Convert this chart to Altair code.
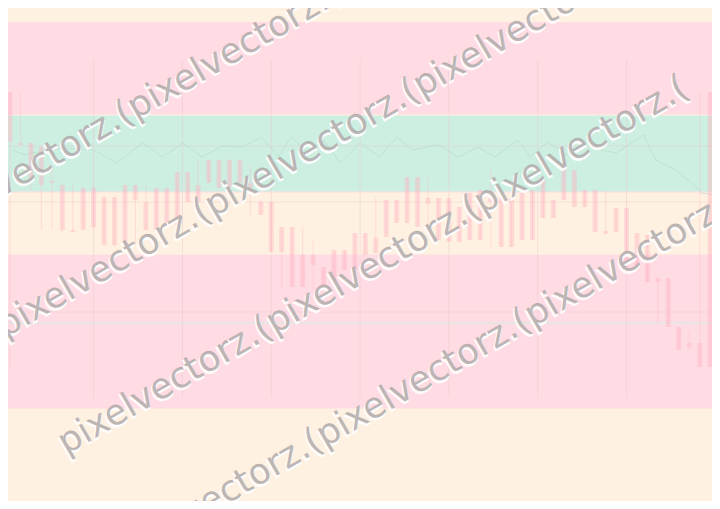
import altair as alt
import pandas as pd

# ---------------- data (price units, candle index) ----------------
candle_idx = list(range(68))
body_top = [41.7, 36.6, 36.6, 36.2, 32.8, 32.4, 27.9, 32.1, 32.1, 31.2,
            31.2, 32.4, 32.4, 30.7, 32.1, 32.1, 33.7, 33.7, 32.4, 34.9,
            34.9, 34.9, 34.9, 32.6, 30.7, 30.7, 28.2, 28.2, 25.4, 25.4,
            24.2, 25.9, 25.9, 27.6, 27.6, 27.1, 30.9, 30.9, 33.2, 33.2,
            31.1, 31.1, 31.1, 30.2, 31.6, 31.9, 31.1, 31.1, 31.1, 31.6,
            31.9, 32.9, 30.9, 33.9, 33.9, 31.9, 31.9, 27.8, 30.1, 30.1,
            27.6, 27.4, 23.1, 23.1, 18.2, 16.6, 16.6, 41.7]
body_bottom = [36.7, 36.4, 33.1, 32.4, 32.6, 27.9, 27.7, 27.9, 28.2, 26.4,
               26.4, 26.4, 30.9, 27.9, 27.9, 28.4, 28.4, 30.7, 30.7, 32.6,
               32.1, 32.1, 32.6, 32.1, 29.4, 25.7, 25.7, 22.2, 22.2, 24.4,
               22.1, 22.6, 23.9, 23.9, 25.4, 25.6, 27.2, 28.6, 28.6, 28.2,
               30.5, 26.9, 26.7, 26.7, 26.9, 26.9, 30.7, 26.2, 26.2, 26.9,
               26.9, 29.1, 29.1, 30.9, 30.2, 30.2, 27.7, 27.5, 27.7, 24.2,
               23.9, 22.7, 22.7, 18.2, 15.9, 16.2, 14.2, 14.2]
wick_high = [41.7, 41.6, 36.6, 36.4, 34.4, 32.6, 32.6, 32.1, 32.3, 31.4,
             31.2, 32.4, 32.4, 32.4, 32.1, 32.1, 33.7, 33.7, 34.9, 34.9,
             34.9, 35.0, 35.0, 34.4, 30.9, 30.7, 28.2, 28.2, 28.2, 26.9,
             24.2, 25.9, 25.9, 27.6, 27.6, 31.1, 30.9, 30.9, 33.2, 33.2,
             33.2, 31.1, 31.1, 30.2, 31.6, 31.9, 33.9, 31.1, 31.1, 31.6,
             31.9, 32.9, 30.9, 33.9, 33.9, 31.9, 31.9, 31.9, 30.1, 30.1,
             27.6, 27.4, 23.1, 23.1, 18.2, 17.9, 41.7, 41.7]
wick_low = [14.2, 36.4, 31.9, 27.9, 27.9, 27.7, 27.7, 27.9, 28.0, 26.4,
            26.2, 26.4, 26.4, 27.9, 27.9, 28.4, 28.4, 30.7, 30.7, 32.6,
            32.1, 32.1, 32.6, 29.2, 29.4, 25.7, 22.1, 22.2, 22.2, 21.9,
            22.1, 22.6, 23.9, 23.9, 25.4, 25.6, 27.2, 28.6, 28.6, 28.2,
            28.4, 26.9, 26.7, 26.7, 26.9, 26.9, 26.2, 26.2, 26.2, 26.9,
            26.9, 29.1, 29.1, 30.9, 30.2, 30.2, 27.7, 27.5, 27.7, 24.2,
            23.9, 22.7, 18.4, 18.2, 15.9, 15.9, 14.2, 14.2]

# faint indicator line
line_x = [0.3, 1.4, 2.6, 5.2, 8.0, 10.2, 12.7, 14.6, 16.5, 18.4, 20.3, 22.2,
          24.1, 25.7, 26.9, 28.5, 30.0, 31.6, 33.5, 35.4, 37.0, 38.5, 41.0,
          42.9, 44.8, 46.4, 48.6, 49.8, 51.4, 53.3, 55.2, 56.6, 58.0, 60.6,
          61.8, 63.7, 64.9, 66.2, 67.4]
line_y = [35.9, 35.4, 35.7, 36.1, 35.9, 34.6, 36.6, 35.2, 36.6, 35.2, 36.3,
          36.2, 37.2, 35.2, 37.2, 35.6, 36.9, 34.6, 36.6, 35.2, 37.2, 35.9,
          36.4, 35.2, 36.2, 35.2, 36.9, 35.2, 36.7, 35.4, 36.9, 35.9, 35.6,
          37.4, 34.9, 33.9, 32.9, 31.6, 31.4]

# background zones
band_name = ["low", "zone1", "mid", "zone2", "zone3", "top"]
band_from = [0.0, 10.1, 25.5, 31.7, 39.4, 48.7]
band_to = [10.1, 25.5, 31.7, 39.4, 48.7, 51.0]
band_colors = ["#FFF1E1", "#FFDCE3", "#FFF1E1", "#CDEFE2", "#FFDCE3", "#FFF1E1"]

# level lines
level_value = [39.4, 31.7, 25.5, 18.6, 10.1, 3.9]
level_name = ["l1", "l2", "l3", "l4", "l5", "l6"]
level_colors = ["#D9AEB9", "#B3C9BC", "#C4B2B0", "#D4AEB6", "#CDBAB0", "#D2C2B4"]
faint_levels = [36.3, 30.7, 19.7]

# vertical grid
grid_x = [8.0, 16.5, 25.0, 33.5, 42.0, 50.5, 59.0]
grid_top = 44.9
grid_bottom = 11.1

# watermark rows (anchor in index / price units)
wm_x = [-7.9, -0.47, 5.38, 10.19]
wm_y = [26.9, 17.1, 5.4, -5.9]
wm_word = "pixelvectorz.("
wm_repeat = 3

# ---------------- frames ----------------
candles = pd.DataFrame({"i": candle_idx, "top": body_top, "bottom": body_bottom,
                        "high": wick_high, "low": wick_low})
line_df = pd.DataFrame({"i": line_x, "v": line_y})
bands = pd.DataFrame({"band": band_name, "y0": band_from, "y1": band_to})
levels = pd.DataFrame({"lvl": level_name, "v": level_value})
faint = pd.DataFrame({"v": faint_levels})
grid = pd.DataFrame({"i": grid_x, "y0": [grid_bottom] * len(grid_x), "y1": [grid_top] * len(grid_x)})
wm = pd.DataFrame({"i": wm_x, "v": wm_y, "t": [wm_word * wm_repeat] * len(wm_x)})

W, H = 704, 493
xs = alt.Scale(domain=[0.283, 66.70], nice=False, zero=False)
ys = alt.Scale(domain=[0.8, 50.1], nice=False, zero=False)

band_layer = alt.Chart(bands).mark_rect(clip=True).encode(
    x=alt.value(0), x2=alt.value(W),
    y=alt.Y("y0:Q", scale=ys, axis=None), y2="y1:Q",
    color=alt.Color("band:N", scale=alt.Scale(domain=band_name, range=band_colors), legend=None),
)

grid_layer = alt.Chart(grid).mark_rule(color="#E9C3CC", strokeWidth=1, opacity=0.45, clip=True).encode(
    x=alt.X("i:Q", scale=xs, axis=None),
    y=alt.Y("y0:Q", scale=ys, axis=None), y2="y1:Q",
)

faint_layer = alt.Chart(faint).mark_rule(color="#E8C8CC", strokeWidth=1, opacity=0.45, clip=True).encode(
    y=alt.Y("v:Q", scale=ys, axis=None), x=alt.value(0), x2=alt.value(W),
)

level_layer = alt.Chart(levels).mark_rule(strokeWidth=1, clip=True).encode(
    y=alt.Y("v:Q", scale=ys, axis=None), x=alt.value(0), x2=alt.value(W),
    color=alt.Color("lvl:N", scale=alt.Scale(domain=level_name, range=level_colors), legend=None),
)

line_layer = alt.Chart(line_df).mark_line(color="#B9DCCB", strokeWidth=1, opacity=0.7, clip=True).encode(
    x=alt.X("i:Q", scale=xs, axis=None),
    y=alt.Y("v:Q", scale=ys, axis=None),
)

wick_layer = alt.Chart(candles).mark_rule(color="#FFB3C1", strokeWidth=1, opacity=0.35, clip=True).encode(
    x=alt.X("i:Q", scale=xs, axis=None),
    y=alt.Y("low:Q", scale=ys, axis=None), y2="high:Q",
)

body_layer = alt.Chart(candles).mark_bar(color="#FFB0C0", opacity=0.36, size=5, clip=True).encode(
    x=alt.X("i:Q", scale=xs, axis=None),
    y=alt.Y("bottom:Q", scale=ys, axis=None), y2="top:Q",
)

wm_shadow = alt.Chart(wm).mark_text(
    align="left", baseline="alphabetic", angle=330, font="DejaVu Sans",
    fontSize=35.5, color="#FFFFFF", stroke="#FFFFFF", strokeWidth=1.5, opacity=0.9,
    dx=-1.5, dy=1.5, clip=True,
).encode(x=alt.X("i:Q", scale=xs, axis=None), y=alt.Y("v:Q", scale=ys, axis=None), text="t:N")

wm_text = alt.Chart(wm).mark_text(
    align="left", baseline="alphabetic", angle=330, font="DejaVu Sans",
    fontSize=35.5, color="#A39C9C", opacity=0.72, clip=True,
).encode(x=alt.X("i:Q", scale=xs, axis=None), y=alt.Y("v:Q", scale=ys, axis=None), text="t:N")

chart = alt.layer(
    band_layer, grid_layer, faint_layer, level_layer, line_layer,
    wick_layer, body_layer, wm_shadow, wm_text,
).properties(
    width=W, height=H, padding=0, autosize="none", background="#FFF1E1",
).configure_view(strokeWidth=0)

chart.save("out.html", embed_options={"renderer": "svg", "actions": False})
